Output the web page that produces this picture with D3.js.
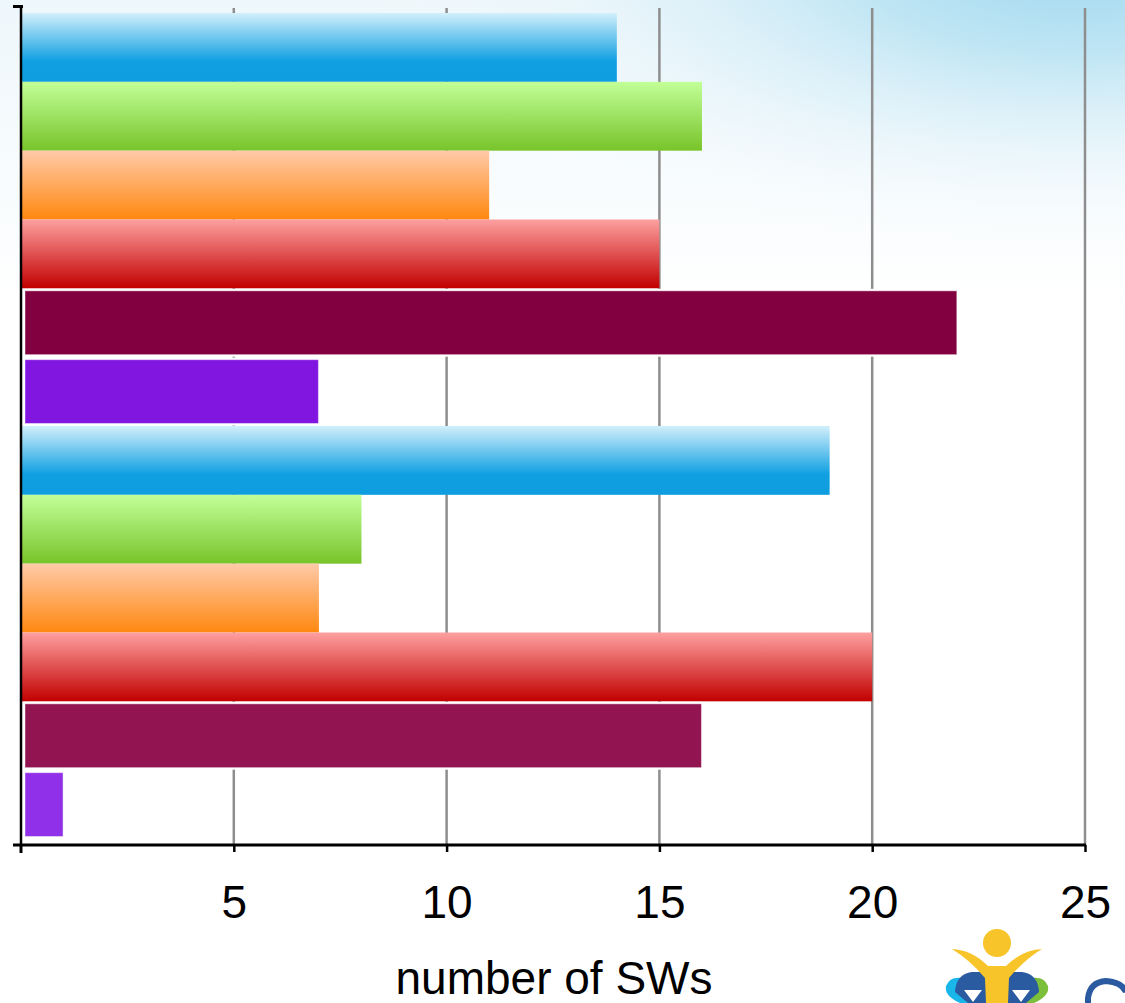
<!DOCTYPE html>
<html>
<head>
<meta charset="utf-8">
<script src="https://cdn.jsdelivr.net/npm/d3@7"></script>
<style>
html,body{margin:0;padding:0;background:#fff;}
svg{display:block;font-family:"Liberation Sans", Arial, Helvetica, sans-serif;}
</style>
</head>
<body>
<svg id="chart" width="1125" height="1003"></svg>
<script>
// ---- data ----
const categories = ["b1","b2","b3","b4","b5","b6","b7","b8","b9","b10","b11","b12"];
const values = [14, 16, 11, 15, 22, 7, 19, 8, 7, 20, 16, 1];
const styles = ["blue","green","orange","red","maroon","purple","blue","green","orange","red","plum","violet"];
const tickValues = [5, 10, 15, 20, 25];
const axisTitle = "number of SWs";

const svg = d3.select("#chart");
const W = 1125, H = 1003;
const defs = svg.append("defs");

// background sky
const bg = defs.append("radialGradient").attr("id","sky")
  .attr("gradientUnits","userSpaceOnUse").attr("cx",1080).attr("cy",-40).attr("r",620)
  .attr("gradientTransform","translate(1080,-40) scale(1.2,0.5) translate(-1080,40)");
[[0,"#9ed7ee","1"],[0.3,"#b9e3f3","0.9"],[0.6,"#dcf0f9","0.55"],[1,"#ffffff","0"]].forEach(s=>bg.append("stop").attr("offset",s[0]).attr("stop-color",s[1]).attr("stop-opacity",s[2]));
const bg2 = defs.append("linearGradient").attr("id","sky2").attr("x1",0).attr("y1",0).attr("x2",0).attr("y2",1);
[[0,"#eef7fb"],[1,"#ffffff"]].forEach(s=>bg2.append("stop").attr("offset",s[0]).attr("stop-color",s[1]));
svg.append("rect").attr("width",W).attr("height",H).attr("fill","#fff");
svg.append("rect").attr("width",W).attr("height",300).attr("fill","url(#sky2)");
svg.append("rect").attr("width",W).attr("height",H).attr("fill","url(#sky)");

// gradients for bars
const grads = {
  blue:   [["0%","#d2effb"],["70%","#10a0e2"],["100%","#0e9ee0"]],
  green:  [["0%","#c2ff98"],["100%","#78c42a"]],
  orange: [["0%","#ffcaa8"],["100%","#ff8810"]],
  red:    [["0%","#fea0a0"],["100%","#c20000"]]
};
Object.entries(grads).forEach(([k,stops])=>{
  const g = defs.append("linearGradient").attr("id","g-"+k).attr("x1",0).attr("y1",0).attr("x2",0).attr("y2",1);
  stops.forEach(s=>g.append("stop").attr("offset",s[0]).attr("stop-color",s[1]));
});
const solid = {maroon:"#820040", purple:"#8016e0", plum:"#921450", violet:"#9030e8"};

const x0 = 21, x1 = 1085, yTop = 13, yBot = 839, axisY = 845;
const x = d3.scaleLinear().domain([0,25]).range([x0,x1]);
const y = d3.scaleBand().domain(categories).range([yTop,yBot]).padding(0);

// gridlines
svg.append("g").selectAll("line").data(tickValues).join("line")
  .attr("x1",d=>x(d)).attr("x2",d=>x(d)).attr("y1",8).attr("y2",axisY)
  .attr("stroke","#8e8e8e").attr("stroke-width",2.5);

// bars
const bars = svg.append("g");
categories.forEach((c,i)=>{
  const st = styles[i];
  if (grads[st]) {
    bars.append("rect").attr("x",x(0)).attr("y",y(c)).attr("width",x(values[i])-x(0)).attr("height",y.bandwidth())
      .attr("fill","url(#g-"+st+")");
  } else {
    bars.append("rect").attr("x",x(0)+1.5).attr("y",y(c)+0.5).attr("width",x(values[i])-x(0)-1).attr("height",y.bandwidth()-1)
      .attr("fill","#ffffff");
    bars.append("rect").attr("x",x(0)+4).attr("y",y(c)+2.5).attr("width",x(values[i])-x(0)-4.5).attr("height",y.bandwidth()-5)
      .attr("fill",solid[st]).attr("stroke","#ffffff").attr("stroke-opacity",0.45).attr("stroke-width",1);
  }
});

// axes
const xAxis = d3.axisBottom(x).tickValues(tickValues).tickSize(7).tickFormat(d3.format("d"));
const gx = svg.append("g").attr("transform",`translate(0,${axisY})`).call(xAxis);
gx.select(".domain").attr("d",`M13,0H${x1+1}`).attr("stroke","#000").attr("stroke-width",3);
gx.selectAll(".tick line").attr("stroke","#000").attr("stroke-width",2.5);
gx.selectAll(".tick text").attr("font-size",46).attr("fill","#000").attr("dy",0).attr("y",73)
  .attr("font-family","'Liberation Sans', Arial, sans-serif");
// origin tick
svg.append("line").attr("x1",x0).attr("x2",x0).attr("y1",axisY).attr("y2",axisY+8).attr("stroke","#000").attr("stroke-width",3);

// y axis line
svg.append("line").attr("x1",x0).attr("x2",x0).attr("y1",6).attr("y2",axisY).attr("stroke","#000").attr("stroke-width",2.5);
svg.append("line").attr("x1",13).attr("x2",x0+2).attr("y1",6.5).attr("y2",6.5).attr("stroke","#000").attr("stroke-width",3);

// axis title
svg.append("text").attr("x",(390+718)/2).attr("y",994).attr("text-anchor","middle")
  .attr("font-size",46).attr("fill","#000").text(axisTitle);

// logo (partial, bottom-right)
const logo = svg.append("g");
// cyan and green outer lobes
logo.append("path").attr("d","M960,1003 Q944,996 946,986 Q950,976 962,978 L972,1003 Z").attr("fill","#19b6ea");
logo.append("path").attr("d","M1034,1003 Q1050,996 1048,986 Q1044,976 1032,978 L1022,1003 Z").attr("fill","#7bbf3a");
// blue shoulders
logo.append("path").attr("d","M955,992 Q956,974 972,972 L990,972 L990,1003 L968,1003 Z").attr("fill","#2a5aa0");
logo.append("path").attr("d","M1039,992 Q1038,974 1022,972 L1004,972 L1004,1003 L1026,1003 Z").attr("fill","#2a5aa0");
// white triangles
logo.append("path").attr("d","M964,990 L982,990 L973,1002 Z").attr("fill","#fff");
logo.append("path").attr("d","M1012,990 L1030,990 L1021,1002 Z").attr("fill","#fff");
// yellow body with arms
logo.append("path").attr("d","M952,949 Q972,950 988,966 L1006,966 Q1022,950 1042,949 Q1024,960 1009,978 L1008,1003 L986,1003 L985,978 Q970,960 952,949 Z").attr("fill","#f7c42a");
logo.append("circle").attr("cx",997).attr("cy",943).attr("r",14).attr("fill","#f7c42a");
// partial letter
logo.append("path").attr("d","M1088,1003 L1088,998 Q1090,982 1106,981 Q1122,982 1126,992").attr("fill","none").attr("stroke","#2a5aa0").attr("stroke-width",6);
</script>
</body>
</html>
